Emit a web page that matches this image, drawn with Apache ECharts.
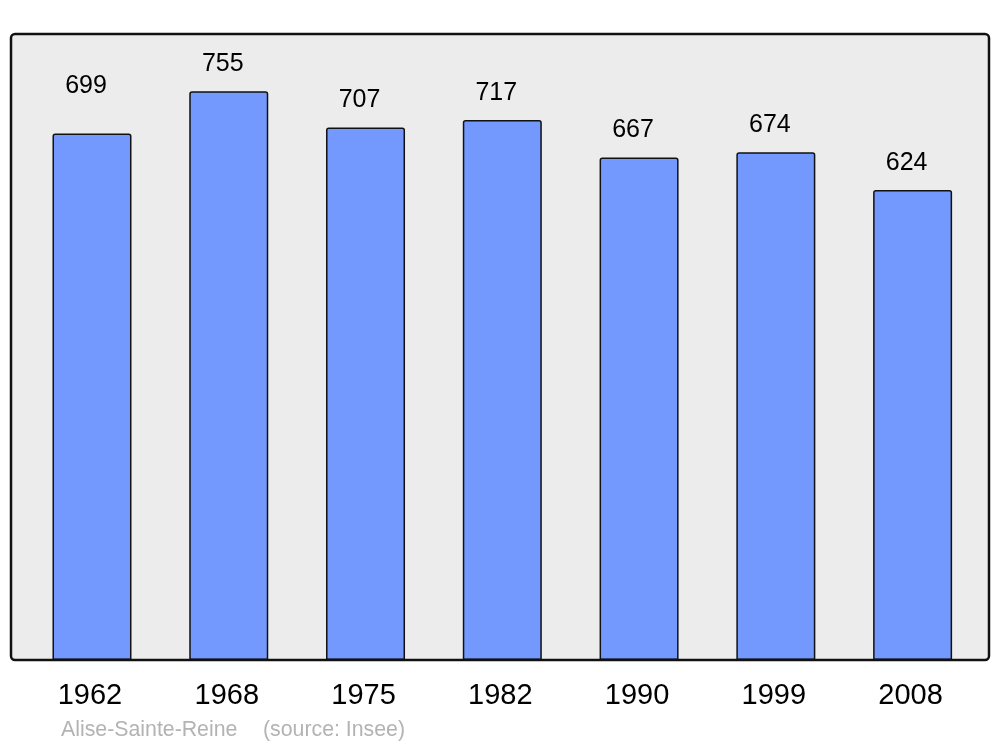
<!DOCTYPE html>
<html>
<head>
<meta charset="utf-8">
<script src="https://cdn.jsdelivr.net/npm/echarts@6/dist/echarts.min.js"></script>
<style>html,body{margin:0;padding:0;background:#fff}#c{width:1000px;height:747px}</style>
</head>
<body>
<div id="c"></div>
<script>
const years = ['1962','1968','1975','1982','1990','1999','2008'];
const population = [699, 755, 707, 717, 667, 674, 624];
const commune = 'Alise-Sainte-Reine';
const source = '(source: Insee)';

const chart = echarts.init(document.getElementById('c'), null, {renderer:'canvas'});
const FONT = '"Liberation Sans", Arial, sans-serif';
const barData = population.map((v, i) => ({
  value: v,
  label: { distance: i === 0 ? 34.5 : 14.5 }
}));
chart.setOption({
  animation: false,
  backgroundColor: '#ffffff',
  grid: { left: 23.6, right: 19, top: 34, bottom: 87, containLabel: false },
  xAxis: {
    type: 'category',
    data: years,
    axisLine: { show: false },
    axisTick: { show: false },
    splitLine: { show: false },
    axisLabel: { color: '#000', fontSize: 29, fontFamily: FONT, margin: 21, padding: [0, 4, 0, 0] }
  },
  yAxis: {
    type: 'value',
    min: 0,
    max: 831,
    show: false,
    splitLine: { show: false }
  },
  graphic: [
    { type: 'rect', z: -10, silent: true,
      shape: { x: 11, y: 34, width: 978, height: 626, r: 4 },
      style: { fill: '#ececec', stroke: null } },
    { type: 'rect', z: 100, silent: true,
      shape: { x: 11, y: 34, width: 978, height: 626, r: 4 },
      style: { fill: null, stroke: '#111111', lineWidth: 2.5 } },
    { type: 'text', z: 100, silent: true, x: 61, y: 730,
      style: { text: commune, fill: '#b3b3b3', font: '21.3px ' + FONT, verticalAlign: 'middle', align: 'left' } },
    { type: 'text', z: 100, silent: true, x: 263, y: 730,
      style: { text: source, fill: '#b3b3b3', font: '21.3px ' + FONT, verticalAlign: 'middle', align: 'left' } }
  ],
  series: [{
    type: 'bar',
    data: barData,
    barWidth: 79,
    itemStyle: { color: '#7399ff', borderColor: '#111111', borderWidth: 1.5, borderRadius: [2,2,0,0] },
    label: { show: true, position: 'top', offset: [-6, 0], color: '#000', fontSize: 25, fontFamily: FONT }
  }]
});
</script>
</body>
</html>
